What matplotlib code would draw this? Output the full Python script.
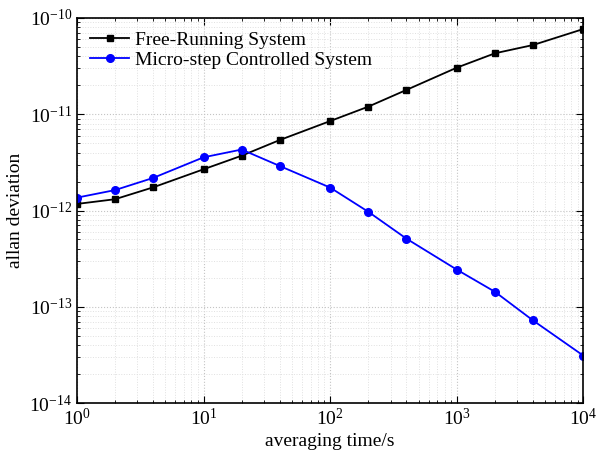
import numpy as np
import matplotlib
matplotlib.use('Agg')
import matplotlib.pyplot as plt

# dati
tau = [1, 2, 4, 10, 20, 40, 100, 200, 400, 1000, 2000, 4000, 10000]
free_running = [1.17e-12, 1.31e-12, 1.74e-12, 2.68e-12, 3.71e-12, 5.4e-12, 8.5e-12,
                1.20e-11, 1.79e-11, 3.05e-11, 4.30e-11, 5.24e-11, 7.69e-11]
micro_step = [1.36e-12, 1.63e-12, 2.18e-12, 3.57e-12, 4.3e-12, 2.90e-12, 1.73e-12,
              9.7e-13, 5.1e-13, 2.43e-13, 1.43e-13, 7.2e-14, 3.1e-14]

plt.rcParams['font.family'] = ['Liberation Serif', 'DejaVu Serif']
plt.rcParams['mathtext.fontset'] = 'stix'

fig = plt.figure(figsize=(5.96, 4.5), dpi=100)
ax = fig.add_axes([0.129, 0.1044, 0.850, 0.8556])

ax.loglog(tau, free_running, 'k-s', lw=1.3, ms=5, label='Free-Running System')
ax.loglog(tau, micro_step, '-o', color='blue', lw=1.3, ms=5.5, label='Micro-step Controlled System')

ax.set_xlim(1, 1e4)
ax.set_ylim(1e-14, 1e-10)
ax.grid(True, which='major', ls=':', color='#c4c4c4', lw=0.8)
ax.grid(True, which='minor', ls=':', color='#e0e0e0', lw=0.7)
ax.tick_params(which='both', direction='in', top=True, right=True, labelsize=14)
ax.tick_params(which='major', length=5)
ax.tick_params(which='minor', length=2.5)
for s in ax.spines.values():
    s.set_linewidth(1.2)

ax.set_xlabel('averaging time/s', fontsize=14, labelpad=3)
ax.set_ylabel('allan deviation', fontsize=14)
ax.legend(loc='upper left', frameon=False, fontsize=14, handlelength=2,
          borderaxespad=0.3, labelspacing=0.1, handletextpad=0.3)

fig.savefig('out.png', dpi=100)
